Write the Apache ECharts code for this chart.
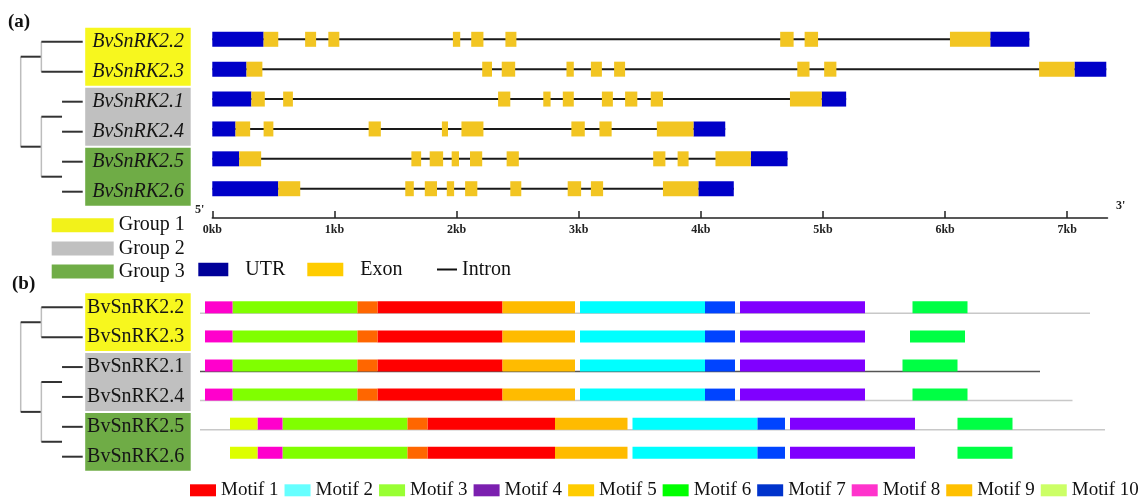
<!DOCTYPE html>
<html><head><meta charset="utf-8">
<script src="https://cdn.jsdelivr.net/npm/echarts@6/dist/echarts.min.js"></script>
<style>html,body{margin:0;padding:0;background:#fff}#c{width:1146px;height:499px}</style>
</head><body><div id="c"></div>
<script>
// ---------- data ----------
const geneNames = ['BvSnRK2.2','BvSnRK2.3','BvSnRK2.1','BvSnRK2.4','BvSnRK2.5','BvSnRK2.6'];
const geneGroups = [1,1,2,2,3,3];
const groupNames = ['Group 1','Group 2','Group 3'];
// gene structure, kb
const utr5 = [[0,0.42],[0,0.28],[0,0.32],[0,0.19],[0,0.22],[0,0.54]];
const utr3 = [[6.37,6.69],[7.06,7.32],[4.99,5.19],[3.94,4.20],[4.41,4.71],[3.98,4.27]];
const exons = [
 [[0.42,0.54],[0.76,0.85],[0.95,1.04],[1.97,2.03],[2.12,2.22],[2.40,2.49],[4.65,4.76],[4.85,4.96],[6.04,6.37]],
 [[0.28,0.41],[2.21,2.29],[2.37,2.48],[2.90,2.96],[3.10,3.19],[3.29,3.38],[4.79,4.89],[5.01,5.11],[6.77,7.06]],
 [[0.32,0.43],[0.58,0.66],[2.34,2.44],[2.71,2.77],[2.87,2.96],[3.19,3.28],[3.38,3.48],[3.59,3.69],[4.73,4.99]],
 [[0.19,0.31],[0.42,0.50],[1.28,1.38],[1.88,1.93],[2.04,2.22],[2.94,3.05],[3.17,3.27],[3.64,3.94]],
 [[0.22,0.40],[1.63,1.71],[1.78,1.89],[1.96,2.02],[2.11,2.21],[2.41,2.51],[3.61,3.71],[3.81,3.90],[4.12,4.41]],
 [[0.54,0.72],[1.58,1.65],[1.74,1.84],[1.92,1.98],[2.07,2.17],[2.44,2.53],[2.91,3.02],[3.10,3.20],[3.69,3.98]]
];
const kbTicks = [0,1,2,3,4,5,6,7];
// phylogenetic tree segments [depth1,row1,depth2,row2]
const treeSegments = [
 [0,0.5,0,3.5],
 [0,0.5,1,0.5],[1,0,1,1],[1,0,3,0],[1,1,3,1],
 [0,3.5,1,3.5],[1,2.5,1,4.5],
 [1,2.5,2,2.5],[2,2,3,2],[2,3,3,3],
 [1,4.5,2,4.5],[2,4,3,4],[2,5,3,5]
];
// conserved motifs: [motif number, start, end] (aa)
const motifNames = ['Motif 1','Motif 2','Motif 3','Motif 4','Motif 5','Motif 6','Motif 7','Motif 8','Motif 9','Motif 10'];
const motifs = [
 [[8,2,13],[3,13,63],[9,63,71],[1,71,121],[5,121,150],[2,152,202],[7,202,214],[4,216,266],[6,285,307]],
 [[8,2,13],[3,13,63],[9,63,71],[1,71,121],[5,121,150],[2,152,202],[7,202,214],[4,216,266],[6,284,306]],
 [[8,2,13],[3,13,63],[9,63,71],[1,71,121],[5,121,150],[2,152,202],[7,202,214],[4,216,266],[6,281,303]],
 [[8,2,13],[3,13,63],[9,63,71],[1,71,121],[5,121,150],[2,152,202],[7,202,214],[4,216,266],[6,285,307]],
 [[10,12,23],[8,23,33],[3,33,83],[9,83,91],[1,91,142],[5,142,171],[2,173,223],[7,223,234],[4,236,286],[6,303,325]],
 [[10,12,23],[8,23,33],[3,33,83],[9,83,91],[1,91,142],[5,142,171],[2,173,223],[7,223,234],[4,236,286],[6,303,325]]
];
const proteinLength = [356,null,336,349,362,null];

// ---------- styles ----------
const SERIF = '"Liberation Serif","Times New Roman",serif';
const groupColors = ['#F7F71E','#C0C0C0','#6FAC46'];
const groupLegendColors = ['#F2F21A','#C0C0C0','#70AD47'];
const motifColors = ['#FF0000','#00FFFF','#80FF00','#8000FF','#FFBB00','#00FF44','#0044FF','#FF00CC','#FF6600','#DDFF00'];
const motifLegendColors = ['#FF0000','#66FFFF','#99FF33','#7B1FAF','#FFCC00','#00FF00','#0033CC','#FF33CC','#FFC000','#CCFF66'];
const backboneColors = ['#c8c8c8','#c8c8c8','#555555','#c8c8c8','#c8c8c8','#c8c8c8'];

const chart = echarts.init(document.getElementById('c'), null, {renderer:'canvas'});

function hiddenAxis(grid, min, max, inverse){
  return {gridIndex:grid, type:'value', min:min, max:max, inverse:!!inverse, show:false,
          splitLine:{show:false}, axisLine:{show:false}, axisTick:{show:false}, axisLabel:{show:false}};
}

// rect between two x values on a row
function rectRender(height, dy){
  return function(params, api){
    const s = api.coord([api.value(1), api.value(0)]);
    const e = api.coord([api.value(2), api.value(0)]);
    return {type:'rect', shape:{x:s[0], y:s[1]+dy, width:e[0]-s[0], height:height},
            style:{fill:api.visual('color')}};
  };
}
function lineRender(params, api){
  const s = api.coord([api.value(1), api.value(0)]);
  const e = api.coord([api.value(2), api.value(0)]);
  return {type:'line', shape:{x1:s[0], y1:s[1], x2:e[0], y2:e[1]},
          style:{stroke:api.visual('color'), lineWidth:2}};
}
function treeRender(params, api){
  const a = api.coord([api.value(0), api.value(1)]);
  const b = api.coord([api.value(2), api.value(3)]);
  const vertical = api.value(0) === api.value(2);
  return {type:'line', shape:{x1:a[0], y1:a[1], x2:b[0], y2:b[1]},
          style:{stroke: vertical ? '#bdbdbd' : '#333', lineWidth: vertical ? 1.5 : 2}};
}
function groupBoxRender(params, api){
  const top = api.coord([3, api.value(1) - 0.5]);
  const bot = api.coord([3, api.value(2) + 0.5]);
  return {type:'rect', shape:{x:top[0]+2.5, y:top[1]+1, width:105.5, height:bot[1]-top[1]-2},
          style:{fill:api.visual('color')}};
}
function labelRender(italic, dx){
  return function(params, api){
    const p = api.coord([3, api.value(0)]);
    return {type:'text', x:p[0]+dx, y:p[1], style:{text:geneNames[params.dataIndex], align:'center', verticalAlign:'middle',
      fontFamily:SERIF, fontSize:20, fontStyle: italic ? 'italic' : 'normal', fill:'#151515'}};
  };
}

const series = [];
// tree (a) and (b)
[0,2].forEach(g => series.push({type:'custom', name:'tree'+g, xAxisIndex:g, yAxisIndex:g, renderItem:treeRender,
  data:treeSegments, encode:{x:[0,2], y:[1,3]}, silent:true, z:2}));
// group boxes (a)/(b)
[0,2].forEach(g => groupNames.forEach((gn, gi) => {
  const rows = geneGroups.map((v,i)=>v===gi+1?i:-1).filter(i=>i>=0);
  series.push({type:'custom', name:gn, xAxisIndex:g, yAxisIndex:g, renderItem:groupBoxRender,
    itemStyle:{color:groupColors[gi]}, data:[[3, rows[0], rows[rows.length-1]]], encode:{x:0, y:[1,2]}, silent:true, z:1});
}));
// labels
series.push({type:'custom', name:'labelsA', xAxisIndex:0, yAxisIndex:0, renderItem:labelRender(true, 55.5),
  data:geneNames.map((n,i)=>[i]), encode:{y:0}, silent:true, z:3});
series.push({type:'custom', name:'labelsB', xAxisIndex:2, yAxisIndex:2, renderItem:labelRender(false, 53),
  data:geneNames.map((n,i)=>[i]), encode:{y:0}, silent:true, z:3});
// gene structures
series.push({type:'custom', name:'Intron', xAxisIndex:1, yAxisIndex:1, renderItem:lineRender, itemStyle:{color:'#1a1a1a'},
  data:geneNames.map((n,i)=>[i, 0, utr3[i][1]]), encode:{x:[1,2], y:0}, silent:true, z:2});
series.push({type:'custom', name:'UTR', xAxisIndex:1, yAxisIndex:1, renderItem:rectRender(15,-7.5), itemStyle:{color:'#0000C8'},
  data:geneNames.flatMap((n,i)=>[[i,utr5[i][0],utr5[i][1]],[i,utr3[i][0],utr3[i][1]]]), encode:{x:[1,2], y:0}, silent:true, z:3});
series.push({type:'custom', name:'Exon', xAxisIndex:1, yAxisIndex:1, renderItem:rectRender(15,-7.5), itemStyle:{color:'#F2C522'},
  data:geneNames.flatMap((n,i)=>exons[i].map(e=>[i,e[0],e[1]])), encode:{x:[1,2], y:0}, silent:true, z:3});
// motif backbone
series.push({type:'custom', name:'backbone', xAxisIndex:3, yAxisIndex:3,
  renderItem:function(params, api){
    const s = api.coord([api.value(1), api.value(0)]);
    const e = api.coord([api.value(2), api.value(0)]);
    return {type:'line', shape:{x1:s[0], y1:s[1], x2:e[0], y2:e[1]},
      style:{stroke:backboneColors[api.value(0)], lineWidth:1.5}};
  },
  data:proteinLength.map((l,i)=>l==null?null:[i,0,l]).filter(d=>d), encode:{x:[1,2], y:0}, silent:true, z:2});
// motifs
motifNames.forEach((mn, mi) => {
  series.push({type:'custom', name:mn, xAxisIndex:3, yAxisIndex:3, renderItem:rectRender(12,-12),
    itemStyle:{color:motifColors[mi]},
    data:geneNames.flatMap((n,i)=>motifs[i].filter(m=>m[0]===mi+1).map(m=>[i,m[1],m[2]])),
    encode:{x:[1,2], y:0}, silent:true, z:3});
});

const legendText = {fontFamily:SERIF, fontSize:20, color:'#111'};
const option = {
  backgroundColor:'#fff',
  animation:false,
  title:[
    {text:'(a)', left:8, top:13, padding:0, textStyle:{fontFamily:SERIF, fontWeight:'bold', fontSize:19, color:'#111'}},
    {text:'(b)', left:12, top:275, padding:0, textStyle:{fontFamily:SERIF, fontWeight:'bold', fontSize:19, color:'#111'}},
    {text:"5'", left:195, top:204, padding:0, textStyle:{fontFamily:SERIF, fontWeight:'bold', fontSize:12, color:'#222'}},
    {text:"3'", left:1116, top:200, padding:0, textStyle:{fontFamily:SERIF, fontWeight:'bold', fontSize:12, color:'#222'}}
  ],
  grid:[
    {left:20.7, top:41.7, width:62, height:150},
    {left:212.3, top:24.36, width:895.2, height:179.3},
    {left:20.7, top:307.3, width:62, height:149.4},
    {left:200, top:298.8, width:940, height:174.5}
  ],
  xAxis:[
    hiddenAxis(0,0,3),
    {gridIndex:1, type:'value', min:0, max:7.33, position:'bottom', offset:14.3,
     axisLine:{show:true, onZero:false, lineStyle:{color:'#222', width:1.5}},
     axisTick:{show:true, inside:true, length:7, customValues:kbTicks, lineStyle:{color:'#222', width:1.5}},
     axisLabel:{show:true, customValues:kbTicks, formatter:'{value}kb', margin:6, fontFamily:SERIF, fontWeight:'bold', fontSize:12, color:'#222'},
     splitLine:{show:false}},
    hiddenAxis(2,0,3),
    hiddenAxis(3,0,376)
  ],
  yAxis:[
    hiddenAxis(0,0,5,true),
    hiddenAxis(1,-0.5,5.5,true),
    hiddenAxis(2,0,5,true),
    hiddenAxis(3,-0.5,5.5,true)
  ],
  legend:[
    {orient:'vertical', left:51.7, top:215.2, padding:0, itemWidth:62, itemHeight:14, itemGap:3.2, icon:'rect', selectedMode:false,
     textStyle:legendText, data:groupNames.map((n,i)=>({name:n, itemStyle:{color:groupLegendColors[i]}}))},
    {left:198.3, top:259.5, padding:0, itemWidth:30, itemHeight:13.5, icon:'rect', selectedMode:false,
     textStyle:Object.assign({}, legendText, {padding:[0,0,0,12]}), data:[{name:'UTR', itemStyle:{color:'#000099'}}]},
    {left:307.3, top:259.5, padding:0, itemWidth:36, itemHeight:13.5, icon:'rect', selectedMode:false,
     textStyle:Object.assign({}, legendText, {padding:[0,0,0,12]}), data:[{name:'Exon', itemStyle:{color:'#FFCC00'}}]},
    {left:437, top:259.5, padding:0, itemWidth:20, itemHeight:14, icon:'path://M0,0H20V2H0Z', selectedMode:false,
     textStyle:legendText, data:[{name:'Intron', itemStyle:{color:'#111'}}]},
    {left:190, top:480.8, padding:0, itemWidth:26, itemHeight:12, itemGap:6, icon:'rect', selectedMode:false,
     textStyle:Object.assign({}, legendText, {fontSize:19}),
     data:motifNames.map((n,i)=>({name:n, itemStyle:{color:motifLegendColors[i]}}))}
  ],
  series:series
};
chart.setOption(option);
</script></body></html>
